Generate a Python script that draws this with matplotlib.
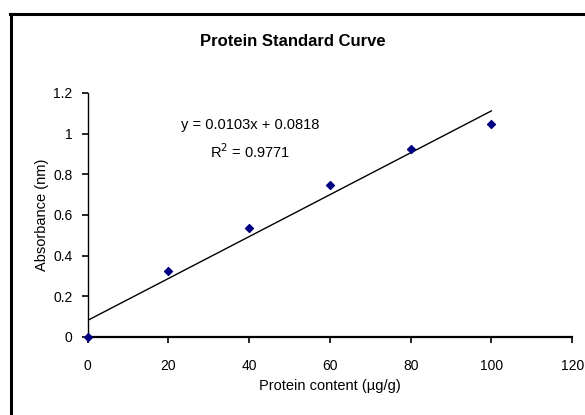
import matplotlib
matplotlib.use("Agg")
import matplotlib.pyplot as plt
from matplotlib.lines import Line2D
import numpy as np

x_vals = [0, 20, 40, 60, 80, 100]
y_vals = [0.0, 0.326, 0.535, 0.747, 0.922, 1.045]
slope = 0.0103
intercept = 0.0818
x_ticks = [0, 20, 40, 60, 80, 100, 120]
y_ticks = [0, 0.2, 0.4, 0.6, 0.8, 1.0, 1.2]
y_tick_labels = ["0", "0.2", "0.4", "0.6", "0.8", "1", "1.2"]

plt.rcParams['font.family'] = ['Liberation Sans', 'DejaVu Sans']

fig = plt.figure(figsize=(5.85, 4.15), dpi=100)
ax = fig.add_axes([0.150, 0.188, 0.828, 0.588])

xfit = np.array([x_vals[0], x_vals[-1]])
ax.plot(xfit, slope * xfit + intercept, color='black', lw=1.0, zorder=2)
ax.scatter(x_vals, y_vals, marker='D', s=16, color='#000080', zorder=3, clip_on=False)

ax.set_xlim(0, 120)
ax.set_ylim(0, 1.2)
ax.set_xticks(x_ticks)
ax.set_xticklabels([str(t) for t in x_ticks])
ax.set_yticks(y_ticks)
ax.set_yticklabels(y_tick_labels)
for s in ['top', 'right']:
    ax.spines[s].set_visible(False)
ax.spines['left'].set_linewidth(1.0)
ax.spines['bottom'].set_linewidth(1.6)
ax.tick_params(axis='y', direction='out', length=4, width=1.2, labelsize=10, pad=7)
ax.tick_params(axis='x', direction='out', length=4, width=1.2, labelsize=10, pad=12)

ax.set_xlabel("Protein content (µg/g)", fontsize=10.5, labelpad=4)
ax.set_ylabel("Absorbance (nm)", fontsize=10.5, labelpad=3)

fig.text(0.5, 0.901, "Protein Standard Curve", ha='center', va='center',
         fontsize=12, fontweight='bold')
ax.text(0.335, 0.870, "y = 0.0103x + 0.0818", transform=ax.transAxes,
        ha='center', va='center', fontsize=10.5)
ax.text(0.335, 0.760, "R$^2$ = 0.9771", transform=ax.transAxes,
        ha='center', va='center', fontsize=10.5)

# outer chart border (only left and top visible)
fig.add_artist(Line2D([10.5/585, 10.5/585], [0, 1 - 14/415], transform=fig.transFigure,
                      color='black', lw=2.2))
fig.add_artist(Line2D([9.5/585, 1], [1 - 14/415, 1 - 14/415], transform=fig.transFigure,
                      color='black', lw=2.2))

fig.savefig("out.png", dpi=100)
